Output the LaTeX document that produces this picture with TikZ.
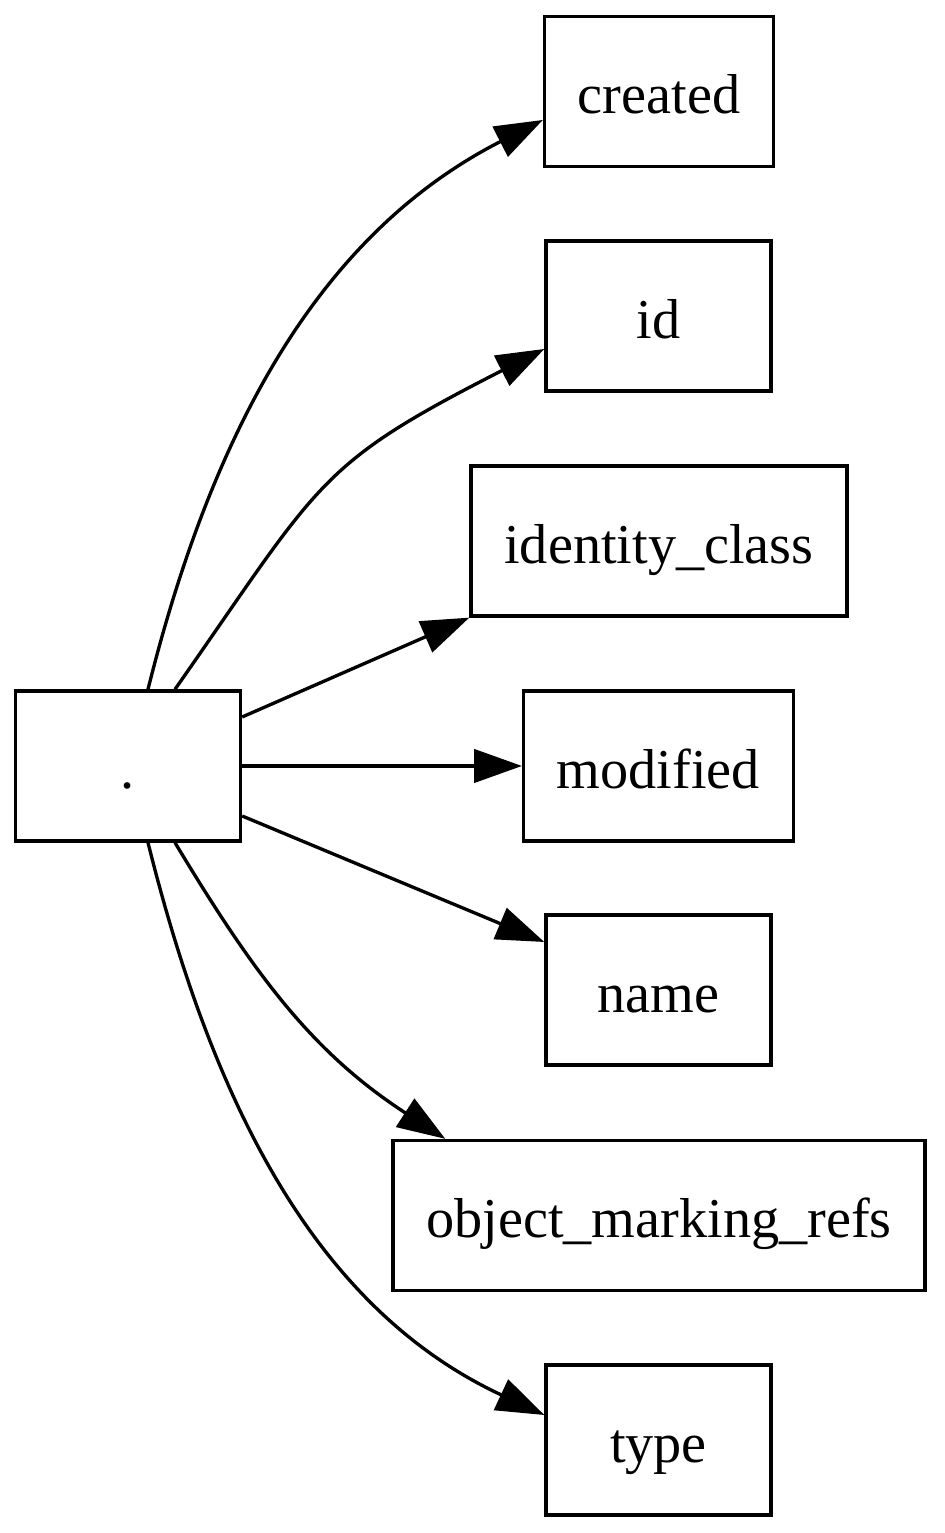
\documentclass[tikz,border=0pt]{standalone}
\usepackage{fontspec}
\setmainfont{Liberation Serif}
\usetikzlibrary{arrows.meta,calc}

\begin{document}
\begin{tikzpicture}[x=0.24pt, y=0.24pt,
    field/.style={draw, line width=0.8pt, rectangle, minimum width=54pt,
        minimum height=36pt, inner xsep=8pt, font=\fontsize{13.5}{16.2}\selectfont,
        text height=11pt, text depth=0.4pt},
    link/.style={line width=0.8pt, -{Triangle[length=11.5pt, width=8pt]}}]

        \useasboundingbox (0,0) rectangle (944,1533);

        % Root node
        \node[field] (root) at (128,767) {.};

        % Field nodes
        \node[field] (created) at (659,1441.5) {created};
        \node[field] (id) at (658.5,1217) {id};
        \node[field] (identity) at (659,992) {identity\_class};
        \node[field] (modified) at (658.5,767) {modified};
        \node[field] (name) at (658.5,543) {name};
        \node[field] (marking) at (659,317.5) {object\_marking\_refs};
        \node[field] (type) at (658.5,93) {type};

        % Curved edges (upper)
        \draw[link] ($(root.north)+(20,0)$) to[out=76, in=207, looseness=0.95] ($(created.west)+(0,-28.5)$);
        \draw[link] ($(root.north)+(47,0)$) to[out=55, in=207, looseness=1.3] ($(id.west)+(0,-33)$);

        % Straight edges
        \draw[link] ($(root.east)+(0,49)$) -- (identity.south west);
        \draw[link] (root.east) -- (modified.west);
        \draw[link] ($(root.east)+(0,-50)$) -- ($(name.west)+(0,48)$);

        % Curved edges (lower)
        \draw[link] ($(root.south)+(47,0)$) to[out=-59, in=147] ($(marking.north west)+(54,0)$);
        \draw[link] ($(root.south)+(20,0)$) to[out=-76, in=155, looseness=0.95] ($(type.west)+(0,25)$);

    \end{tikzpicture}
\end{document}
